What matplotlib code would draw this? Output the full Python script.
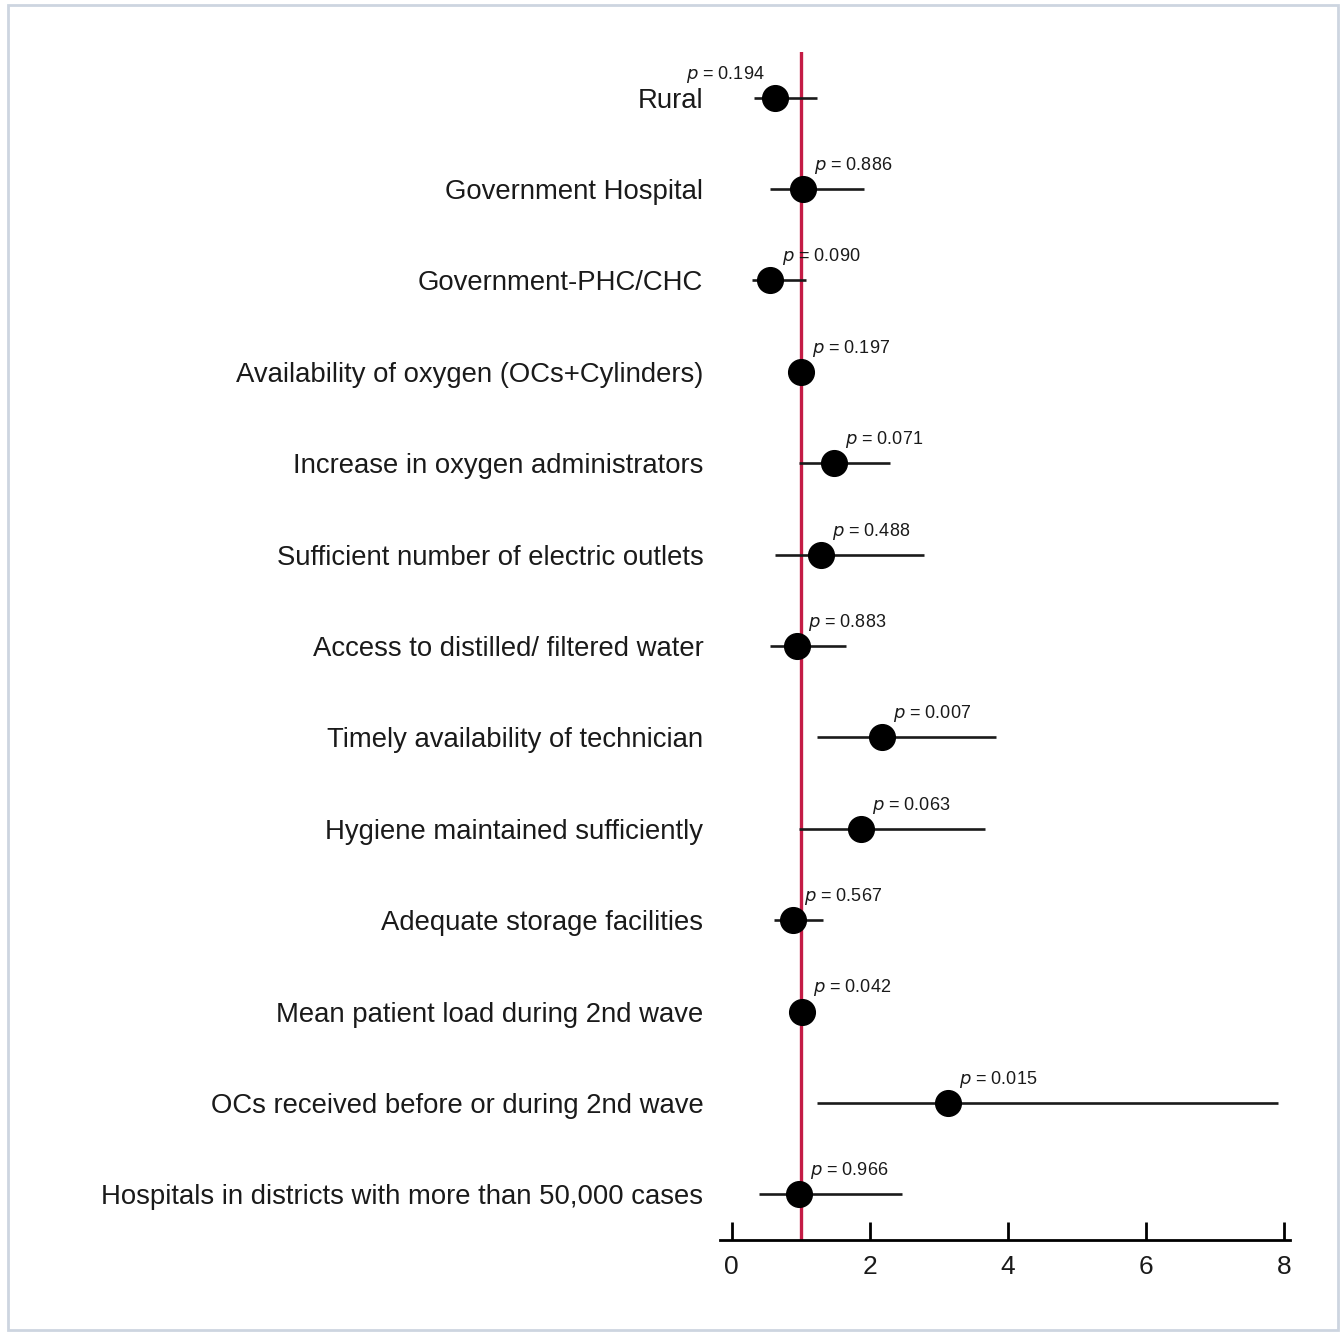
import matplotlib.pyplot as plt
from matplotlib.patches import Rectangle

plt.rcParams['font.family'] = ['Liberation Sans', 'DejaVu Sans']

# odds ratios with 95% CI
labels = ['Rural', 'Government Hospital', 'Government-PHC/CHC',
          'Availability of oxygen (OCs+Cylinders)', 'Increase in oxygen administrators',
          'Sufficient number of electric outlets', 'Access to distilled/ filtered water',
          'Timely availability of technician', 'Hygiene maintained sufficiently',
          'Adequate storage facilities', 'Mean patient load during 2nd wave',
          'OCs received before or during 2nd wave',
          'Hospitals in districts with more than 50,000 cases']
odds = [0.62, 1.03, 0.56, 1.00, 1.48, 1.29, 0.94, 2.17, 1.87, 0.88, 1.01, 3.13, 0.97]
ci_low = [0.32, 0.56, 0.30, 0.99, 0.97, 0.62, 0.56, 1.24, 0.97, 0.61, 0.99, 1.24, 0.39]
ci_high = [1.24, 1.92, 1.07, 1.01, 2.29, 2.78, 1.65, 3.82, 3.66, 1.32, 1.03, 7.90, 2.47]
pvals = ['0.194', '0.886', '0.090', '0.197', '0.071', '0.488', '0.883',
         '0.007', '0.063', '0.567', '0.042', '0.015', '0.966']

fig = plt.figure(figsize=(13.41, 13.33), dpi=100)
ax = fig.add_axes([720 / 1341, 1 - 1240 / 1333, 570 / 1341, 1188 / 1333])

ypos = list(range(len(labels)))
ax.axvline(1, color='#C41C45', lw=2.4, zorder=1)
ax.hlines(ypos, ci_low, ci_high, color='#1a1a1a', lw=1.9, zorder=2)
ax.plot(odds, ypos, 'o', color='black', ms=18.5, zorder=3)

for i, (o, p) in enumerate(zip(odds, pvals)):
    if i == 0:
        ax.annotate('$p$ = ' + p, (o, i), xytext=(-7, 17), textcoords='offset points',
                    ha='right', va='center', fontsize=13, color='#1a1a1a')
    else:
        ax.annotate('$p$ = ' + p, (o, i), xytext=(8, 17), textcoords='offset points',
                    ha='left', va='center', fontsize=13, color='#1a1a1a')

ax.set_xlim(-0.17, 8.08)
ax.set_ylim(len(labels) - 0.5, -0.5)
ax.set_xticks([0, 2, 4, 6, 8])
ax.set_yticks(ypos)
ax.set_yticklabels(labels, fontsize=19.8, color='#1a1a1a')
ax.tick_params(axis='y', length=0, pad=12)
ax.tick_params(axis='x', direction='in', length=13, width=2, pad=11,
               labelsize=19, labelcolor='#1a1a1a')
for s in ['top', 'right', 'left']:
    ax.spines[s].set_visible(False)
ax.spines['bottom'].set_linewidth(2)

fig.patches.append(Rectangle((8 / 1341, 3 / 1333), 1330 / 1341, 1325 / 1333,
                             transform=fig.transFigure, fill=False,
                             edgecolor='#cdd5e0', lw=2))

fig.savefig('out.png', dpi=100)
